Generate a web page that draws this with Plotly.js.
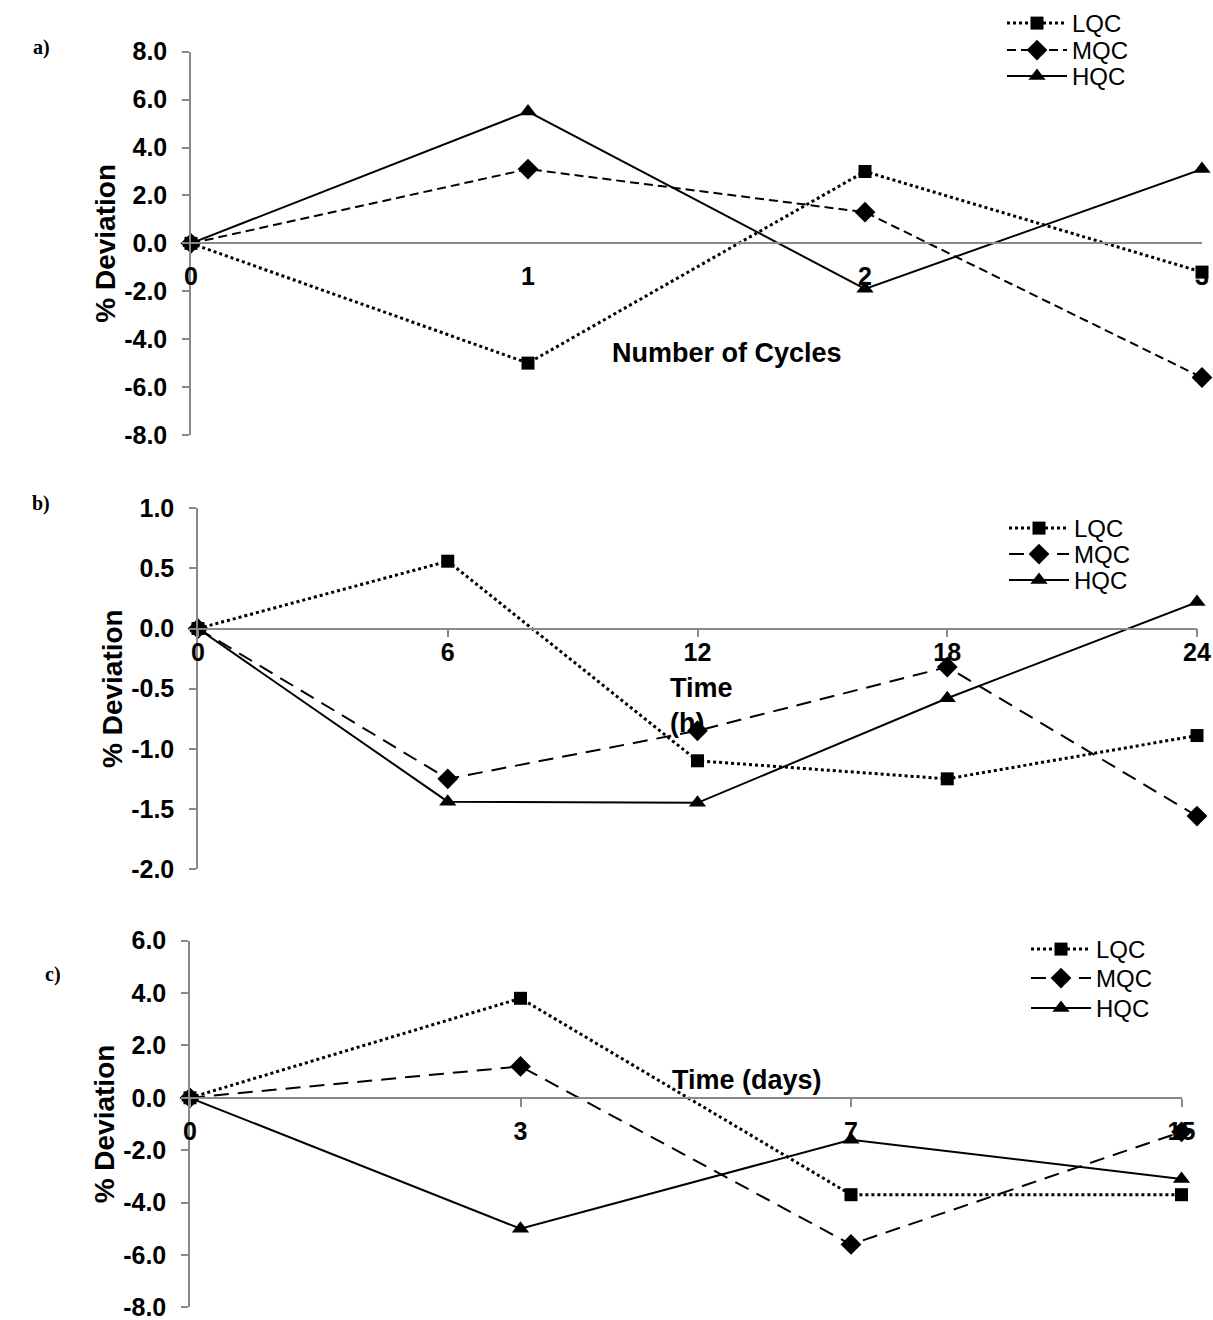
<!DOCTYPE html>
<html><head><meta charset="utf-8">
<script src="https://cdn.plot.ly/plotly-3.0.1.min.js"></script>
<style>html,body{margin:0;padding:0;background:#fff}#chart{width:1213px;height:1320px}</style>
</head><body><div id="chart"></div>
<script>
// ---- data ----
const seriesNames = ['LQC', 'MQC', 'HQC'];
const cyclesLabels = ['0', '1', '2', '3'];
const cyclesLQC = [0, -5.0, 3.0, -1.2];
const cyclesMQC = [0, 3.1, 1.3, -5.6];
const cyclesHQC = [0, 5.5, -1.9, 3.1];
const hoursLabels = ['0', '6', '12', '18', '24'];
const hoursLQC = [0, 0.56, -1.10, -1.25, -0.89];
const hoursMQC = [0, -1.25, -0.85, -0.32, -1.56];
const hoursHQC = [0, -1.44, -1.45, -0.58, 0.22];
const daysLabels = ['0', '3', '7', '15'];
const daysLQC = [0, 3.8, -3.7, -3.7];
const daysMQC = [0, 1.2, -5.6, -1.3];
const daysHQC = [0, -5.0, -1.6, -3.1];
const panelLabels = ['a)', 'b)', 'c)'];
const xTitles = ['Number of Cycles', 'Time<br>(h)', 'Time (days)'];
const yTitle = '% Deviation';

// ---- styling ----
const W = 1213, H = 1320;
const px = v => v / W;
const py = v => 1 - v / H;
const gray = '#898989';
const bold = (size) => ({family: 'Liberation Sans, Arial, sans-serif', size: size, color: '#000', weight: 'bold'});

const styles = [
  {dash: 'dot', width: 3, symbol: 'square', size: 13},
  {dash: null, width: 2, symbol: 'diamond', size: 16},
  {dash: 'solid', width: 2, symbol: 'triangle-up', size: 15}
];

// one legend per entry so each row can sit where the reference puts it
const legendIds = [['legend', 'legend2', 'legend3'], ['legend4', 'legend5', 'legend6'], ['legend7', 'legend8', 'legend9']];

function makeTraces(p, labels, vals, xa, ya, mqcDash) {
  return vals.map((v, i) => ({
    type: 'scatter', mode: 'lines+markers',
    x: labels, y: v, name: seriesNames[i],
    xaxis: xa, yaxis: ya, legend: legendIds[p][i], cliponaxis: false,
    line: {color: '#000', width: styles[i].width, dash: i === 1 ? mqcDash : styles[i].dash},
    marker: {color: '#000', symbol: styles[i].symbol, size: styles[i].size}
  }));
}

const traces = [].concat(
  makeTraces(0, cyclesLabels, [cyclesLQC, cyclesMQC, cyclesHQC], 'x', 'y', '9px,5px'),
  makeTraces(1, hoursLabels, [hoursLQC, hoursMQC, hoursHQC], 'x2', 'y2', '15px,9px'),
  makeTraces(2, daysLabels, [daysLQC, daysMQC, daysHQC], 'x3', 'y3', '15px,9px')
);

function ticks(lo, hi, step) {
  const vals = [];
  for (let v = lo; v <= hi + 1e-9; v += step) vals.push(Math.round(v * 100) / 100);
  return vals;
}

function yAxis(dom, range, step, xa) {
  const tv = ticks(range[0], range[1], step);
  return {
    domain: dom, anchor: xa, range: range,
    tickvals: tv, ticktext: tv.map(v => v.toFixed(1)),
    ticks: 'outside', ticklen: 7, tickwidth: 1.5, tickcolor: gray,
    showline: true, linecolor: gray, linewidth: 1.5,
    showgrid: false, zeroline: false, ticklabeloverflow: 'allow',
    tickfont: bold(25), ticklabelstandoff: 10,
    title: {text: yTitle, font: bold(28), standoff: 0}
  };
}

function xAxis(dom, ydom, yrange, nCat, showTicks, standoff) {
  const pos = ydom[0] + (0 - yrange[0]) / (yrange[1] - yrange[0]) * (ydom[1] - ydom[0]);
  return {
    domain: dom, anchor: 'free', position: pos, type: 'category',
    range: [0, nCat - 1],
    showline: true, linecolor: gray, linewidth: 1.5,
    ticks: showTicks ? 'outside' : '', ticklen: 8, tickwidth: 1.5, tickcolor: gray,
    showgrid: false, zeroline: false, ticklabeloverflow: 'allow',
    tickfont: bold(25), ticklabelstandoff: standoff
  };
}

const yd1 = [py(435), py(51.7)], yr1 = [-8, 8];
const yd2 = [py(869), py(508.3)], yr2 = [-2, 1];
const yd3 = [py(1307.3), py(940.7)], yr3 = [-8, 6];

function legendAt(x, top) {
  return {
    font: {family: 'Liberation Sans, Arial, sans-serif', size: 24, color: '#000'},
    bgcolor: 'rgba(0,0,0,0)', xanchor: 'left', yanchor: 'top', itemwidth: 60,
    x: px(x), y: py(top)
  };
}

const labelFont = {family: 'Liberation Serif, Times New Roman, serif', size: 20, weight: 'bold', color: '#000'};
const ann = (text, x, y, font, extra) => Object.assign({
  text: text, x: px(x), y: py(y), xref: 'paper', yref: 'paper', showarrow: false,
  xanchor: 'center', yanchor: 'middle', font: font
}, extra || {});

const layout = {
  width: W, height: H,
  margin: {l: 0, r: 0, t: 0, b: 0},
  paper_bgcolor: '#fff', plot_bgcolor: 'rgba(0,0,0,0)',
  showlegend: true,
  xaxis: xAxis([px(191), px(1202)], yd1, yr1, cyclesLabels.length, false, 11),
  yaxis: yAxis(yd1, yr1, 2, 'x'),
  xaxis2: xAxis([px(198), px(1197)], yd2, yr2, hoursLabels.length, true, -6),
  yaxis2: yAxis(yd2, yr2, 0.5, 'x2'),
  xaxis3: xAxis([px(190), px(1181.5)], yd3, yr3, daysLabels.length, true, 3),
  yaxis3: yAxis(yd3, yr3, 2, 'x3'),
  legend: legendAt(1002, 1), legend2: legendAt(1002, 28), legend3: legendAt(1002, 54),
  legend4: legendAt(1004, 506), legend5: legendAt(1004, 532), legend6: legendAt(1004, 558),
  legend7: legendAt(1026, 927), legend8: legendAt(1026, 956), legend9: legendAt(1026, 986),
  annotations: [
    ann(panelLabels[0], 41, 47, labelFont),
    ann(panelLabels[1], 41, 503, labelFont),
    ann(panelLabels[2], 53, 974, labelFont),
    ann(xTitles[0], 727, 353, bold(27)),
    ann(xTitles[1], 668, 705, bold(27), {xanchor: 'left', align: 'left'}),
    ann(xTitles[2], 747, 1080, bold(27))
  ]
};

Plotly.newPlot('chart', traces, layout, {displayModeBar: false, responsive: false});
</script>
</body></html>
